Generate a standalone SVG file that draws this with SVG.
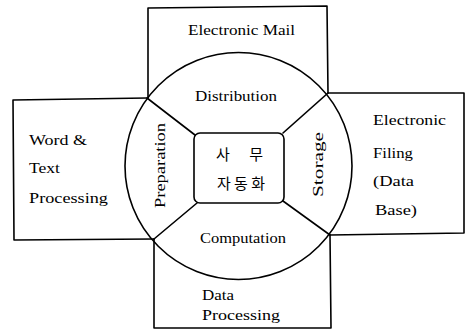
<svg xmlns="http://www.w3.org/2000/svg" width="468" height="331" viewBox="0 0 468 331">
<style>
.ln{fill:none;stroke:#000;stroke-width:1.6;stroke-linejoin:round;stroke-linecap:round}
.t{font-family:"Liberation Serif","Noto Sans CJK KR",serif;font-size:14px;fill:#000}
.k{font-family:"Noto Sans CJK KR","Liberation Serif",serif;font-size:15px;fill:#000}
.m{text-anchor:middle}
</style>
<rect width="468" height="331" fill="#fff"/>
<g id="email">
<path class="ln" d="M148,98 L148,8 L327,6 L328,93"/>
<text class="t" x="188" y="35" textLength="107" lengthAdjust="spacingAndGlyphs">Electronic Mail</text>
</g>
<g id="word">
<path class="ln" d="M147,98 L13,100 L14,240 L154,239"/>
<text class="t" x="29" y="145" textLength="58" lengthAdjust="spacingAndGlyphs">Word &amp;</text>
<text class="t" x="29" y="173" textLength="31" lengthAdjust="spacingAndGlyphs">Text</text>
<text class="t" x="29" y="203" textLength="79" lengthAdjust="spacingAndGlyphs">Processing</text>
</g>
<g id="dataproc">
<path class="ln" d="M154,239 L154,328 L331,328 L330,235"/>
<text class="t" x="202" y="300" textLength="32" lengthAdjust="spacingAndGlyphs">Data</text>
<text class="t" x="202" y="320" textLength="78" lengthAdjust="spacingAndGlyphs">Processing</text>
</g>
<g id="filing">
<path class="ln" d="M328,93 L464,93 L464,233 L330,235"/>
<text class="t" x="373" y="125" textLength="73" lengthAdjust="spacingAndGlyphs">Electronic</text>
<text class="t" x="373" y="158" textLength="40" lengthAdjust="spacingAndGlyphs">Filing</text>
<text class="t" x="373" y="186" textLength="41" lengthAdjust="spacingAndGlyphs">(Data</text>
<text class="t" x="375" y="215" textLength="42" lengthAdjust="spacingAndGlyphs">Base)</text>
</g>
<g id="circle">
<circle class="ln" cx="238.5" cy="166" r="113.5"/>
</g>
<g id="distribution">
<text class="t" x="195" y="101" textLength="82" lengthAdjust="spacingAndGlyphs">Distribution</text>
</g>
<g id="preparation">
<text class="t m" transform="translate(165,165.5) rotate(-90)" x="0" y="0" textLength="85" lengthAdjust="spacingAndGlyphs">Preparation</text>
</g>
<g id="storage">
<text class="t m" transform="translate(323,164.5) rotate(-90)" x="0" y="0" textLength="65" lengthAdjust="spacingAndGlyphs">Storage</text>
</g>
<g id="computation">
<text class="t" x="200" y="243" textLength="86" lengthAdjust="spacingAndGlyphs">Computation</text>
</g>
<g id="center">
<rect class="ln" x="194" y="133" width="90" height="70" rx="6"/>
<text class="k" x="216" y="160" textLength="47" lengthAdjust="spacing">사 무</text>
<text class="k" x="217" y="189" textLength="48" lengthAdjust="spacing">자동화</text>
</g>
<g id="connectors">
<line class="ln" x1="147" y1="98" x2="195" y2="135"/>
<line class="ln" x1="328" y1="93" x2="283" y2="133"/>
<line class="ln" x1="154" y1="239" x2="197" y2="203"/>
<line class="ln" x1="330" y1="235" x2="283" y2="201"/>
</g>
</svg>
